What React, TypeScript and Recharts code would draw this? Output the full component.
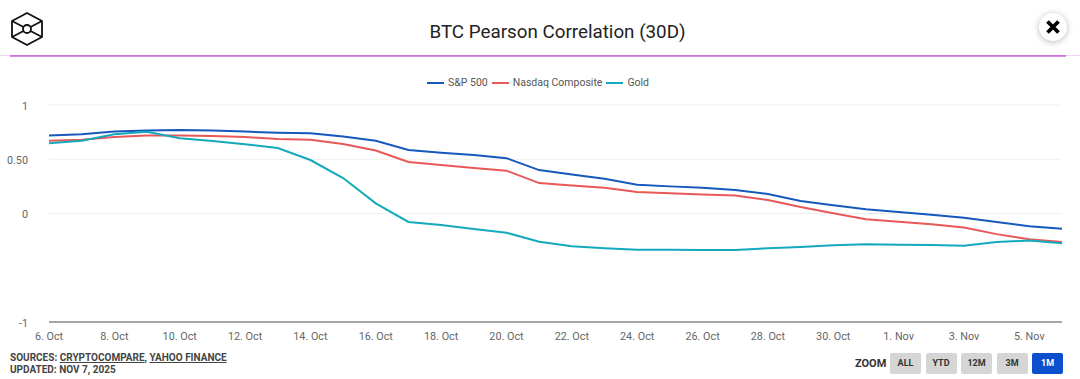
// App.tsx
import React from 'react'
import {
  LineChart,
  Line,
  XAxis,
  YAxis,
  CartesianGrid,
  Legend
} from 'recharts'

const DAYS = [
  '6. Oct', '7. Oct', '8. Oct', '9. Oct', '10. Oct', '11. Oct', '12. Oct', '13. Oct',
  '14. Oct', '15. Oct', '16. Oct', '17. Oct', '18. Oct', '19. Oct', '20. Oct', '21. Oct',
  '22. Oct', '23. Oct', '24. Oct', '25. Oct', '26. Oct', '27. Oct', '28. Oct', '29. Oct',
  '30. Oct', '31. Oct', '1. Nov', '2. Nov', '3. Nov', '4. Nov', '5. Nov', '6. Nov'
]

const SP500 = [
  0.72, 0.73, 0.755, 0.765, 0.77, 0.765, 0.755, 0.745,
  0.74, 0.71, 0.67, 0.585, 0.56, 0.54, 0.51, 0.4,
  0.36, 0.32, 0.265, 0.25, 0.237, 0.217, 0.18, 0.115,
  0.075, 0.04, 0.014, -0.012, -0.039, -0.078, -0.118, -0.14
]

const NASDAQ = [
  0.67, 0.68, 0.705, 0.72, 0.72, 0.715, 0.705, 0.687,
  0.68, 0.64, 0.58, 0.475, 0.447, 0.42, 0.395, 0.28,
  0.258, 0.238, 0.198, 0.186, 0.175, 0.165, 0.125, 0.06,
  0.002, -0.053, -0.076, -0.1, -0.13, -0.19, -0.238, -0.263
]

const GOLD = [
  0.647, 0.67, 0.73, 0.754, 0.693, 0.668, 0.638, 0.604,
  0.493, 0.327, 0.094, -0.078, -0.106, -0.143, -0.177, -0.26,
  -0.302, -0.32, -0.334, -0.335, -0.336, -0.336, -0.32, -0.309,
  -0.293, -0.284, -0.288, -0.29, -0.297, -0.263, -0.25, -0.275
]

const Y_TICKS = [-1, 0, 0.5, 1]
const ZOOM_BUTTONS = ['ALL', 'YTD', '12M', '3M', '1M']

const BLUE = '#1658bd'
const RED = '#e85858'
const TEAL = '#14aabd'
const FONT = 'Roboto, sans-serif'

const chartData = DAYS.map((day, i) => ({
  day,
  sp: SP500[i],
  nasdaq: NASDAQ[i],
  gold: GOLD[i]
}))

const formatY = (v: number) => (v === 0.5 ? '0.50' : String(v))

function ChartLegend({ payload }: any) {
  return (
    <div
      style={{
        height: 105,
        display: 'flex',
        alignItems: 'flex-start',
        paddingLeft: 427,
        paddingTop: 76,
        boxSizing: 'border-box',
        gap: 4,
        fontFamily: FONT,
        fontSize: 10.5,
        lineHeight: '14px',
        color: '#555'
      }}
    >
      {(payload ?? []).map((p: any) => (
        <div key={p.value} style={{ display: 'flex', alignItems: 'center', gap: 4 }}>
          <span style={{ width: 17, height: 2, background: p.color, display: 'block' }} />
          <span>{p.value}</span>
        </div>
      ))}
    </div>
  )
}

function Logo() {
  return (
    <svg
      width={34}
      height={36}
      viewBox="0 0 34 36"
      style={{ position: 'absolute', left: 10, top: 11 }}
      fill="none"
      stroke="#111"
      strokeWidth={1.8}
      strokeLinejoin="round"
    >
      <path d="M17 2 L32 10 L32 26 L17 34 L2 26 L2 10 Z" />
      <circle cx={17} cy={18} r={4} />
      <path d="M2 10 L13.5 16 M32 10 L20.5 16 M2 26 L13.5 20 M32 26 L20.5 20" />
    </svg>
  )
}

function CloseButton() {
  return (
    <div
      style={{
        position: 'absolute',
        left: 1039,
        top: 13,
        width: 28,
        height: 28,
        borderRadius: '50%',
        background: '#fff',
        boxShadow: '0 1px 6px rgba(0,0,0,0.28)'
      }}
    >
      <svg width={28} height={28} viewBox="0 0 28 28">
        <path d="M8.5 8.5 L19.5 19.5 M19.5 8.5 L8.5 19.5" stroke="#000" strokeWidth={3.8} />
      </svg>
    </div>
  )
}

export default function App() {
  return (
    <div
      style={{
        position: 'absolute',
        left: 0,
        top: 0,
        width: 1080,
        height: 379,
        overflow: 'hidden',
        background: '#fff',
        fontFamily: FONT
      }}
    >
      <LineChart
        width={1080}
        height={379}
        data={chartData}
        margin={{ top: 0, right: 18, left: 0, bottom: 0 }}
      >
        <CartesianGrid vertical={false} stroke="#efefef" />
        <XAxis
          dataKey="day"
          interval={1}
          height={57}
          tickLine={false}
          tickMargin={4}
          axisLine={{ stroke: '#555', strokeWidth: 1 }}
          tick={{ fontSize: 10.8, fill: '#666', fontFamily: FONT }}
        />
        <YAxis
          type="number"
          domain={[-1, 1]}
          ticks={Y_TICKS}
          tickFormatter={formatY}
          width={49}
          axisLine={false}
          tickLine={false}
          tickMargin={15}
          dy={1}
          tick={{ fontSize: 10.8, fill: '#666', fontFamily: FONT }}
        />
        <Legend verticalAlign="top" height={105} itemSorter={null} content={<ChartLegend />} />
        <Line name="S&P 500" dataKey="sp" stroke={BLUE} strokeWidth={2} dot={false} isAnimationActive={false} />
        <Line name="Nasdaq Composite" dataKey="nasdaq" stroke={RED} strokeWidth={2} dot={false} isAnimationActive={false} />
        <Line name="Gold" dataKey="gold" stroke={TEAL} strokeWidth={2} dot={false} isAnimationActive={false} />
      </LineChart>

      <Logo />
      <div
        style={{
          position: 'absolute',
          left: 0,
          width: 1115,
          top: 19,
          textAlign: 'center',
          fontSize: 18.8,
          lineHeight: '26px',
          color: '#222'
        }}
      >
        BTC Pearson Correlation (30D)
      </div>
      <CloseButton />

      {/* purple rule, fades to a hairline at both page edges */}
      <div style={{ position: 'absolute', left: 0, width: 1080, top: 55, height: 1, background: '#edd3f2' }} />
      <div style={{ position: 'absolute', left: 10, width: 1056, top: 55, height: 2, background: 'linear-gradient(#c166d4, #dc9ee8)' }} />

      <div
        style={{
          position: 'absolute',
          left: 10,
          top: 352,
          fontSize: 10,
          lineHeight: '11.5px',
          fontWeight: 700,
          color: '#444'
        }}
      >
        <div>
          SOURCES: <u>CRYPTOCOMPARE</u>, <u>YAHOO FINANCE</u>
        </div>
        <div>UPDATED: NOV 7, 2025</div>
      </div>

      <div
        style={{
          position: 'absolute',
          left: 855,
          top: 357,
          fontSize: 11,
          lineHeight: '14px',
          fontWeight: 700,
          color: '#333'
        }}
      >
        ZOOM
      </div>
      <div style={{ position: 'absolute', left: 890, top: 353, display: 'flex', gap: 4.5 }}>
        {ZOOM_BUTTONS.map(b => (
          <div
            key={b}
            style={{
              width: 31,
              height: 21,
              borderRadius: 2,
              background: b === '1M' ? '#0b4fcc' : '#d5d5d5',
              color: b === '1M' ? '#fff' : '#333',
              fontSize: 9,
              fontWeight: 700,
              lineHeight: '21px',
              textAlign: 'center'
            }}
          >
            {b}
          </div>
        ))}
      </div>
    </div>
  )
}
